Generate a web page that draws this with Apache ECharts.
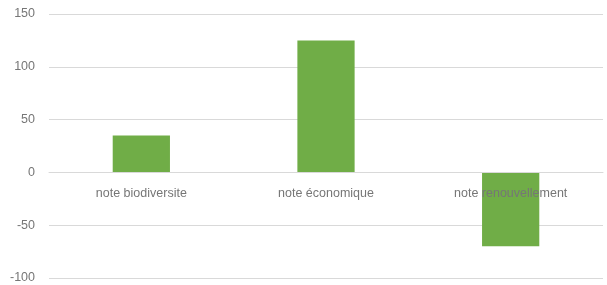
<!DOCTYPE html>
<html>
<head>
<meta charset="utf-8">
<script src="https://cdn.jsdelivr.net/npm/echarts@6/dist/echarts.min.js"></script>
<style>
html,body{margin:0;padding:0;background:#fff;}
#chart{width:607px;height:285px;}
</style>
</head>
<body>
<div id="chart"></div>
<script>
var categories = ["note biodiversite", "note économique", "note renouvellement"];
var values = [35, 125, -70];
var yTicks = [-100, -50, 0, 50, 100, 150];

var H = 285, gridTop = 14, gridBottom = 7;
var yMin = yTicks[0], yMax = yTicks[yTicks.length - 1];
// distance from bottom of grid up to the zero line (category axis crosses at 0)
var zeroOffset = (H - gridTop - gridBottom) * (0 - yMin) / (yMax - yMin);

var chart = echarts.init(document.getElementById('chart'), null, {renderer: 'canvas'});
chart.setOption({
  animation: false,
  backgroundColor: '#ffffff',
  grid: {left: 49, right: 4, top: gridTop, bottom: gridBottom, containLabel: false, outerBoundsMode: 'none'},
  xAxis: {
    type: 'category',
    data: categories,
    z: 5,
    offset: -zeroOffset,
    axisLine: {show: true, onZero: false, lineStyle: {color: '#d9d9d9', width: 1}},
    axisTick: {show: false},
    axisLabel: {color: '#767676', fontSize: 12.5, fontFamily: 'Liberation Sans, Arial, sans-serif', margin: 15}
  },
  yAxis: {
    type: 'value',
    min: yMin,
    max: yMax,
    interval: 50,
    axisLine: {show: false},
    axisTick: {show: false},
    splitLine: {lineStyle: {color: '#d9d9d9', width: 1}},
    axisLabel: {color: '#767676', fontSize: 12.5, fontFamily: 'Liberation Sans, Arial, sans-serif', margin: 14}
  },
  series: [{
    type: 'bar',
    data: values,
    barWidth: '31%',
    itemStyle: {color: '#70AD47'}
  }]
});
</script>
</body>
</html>
